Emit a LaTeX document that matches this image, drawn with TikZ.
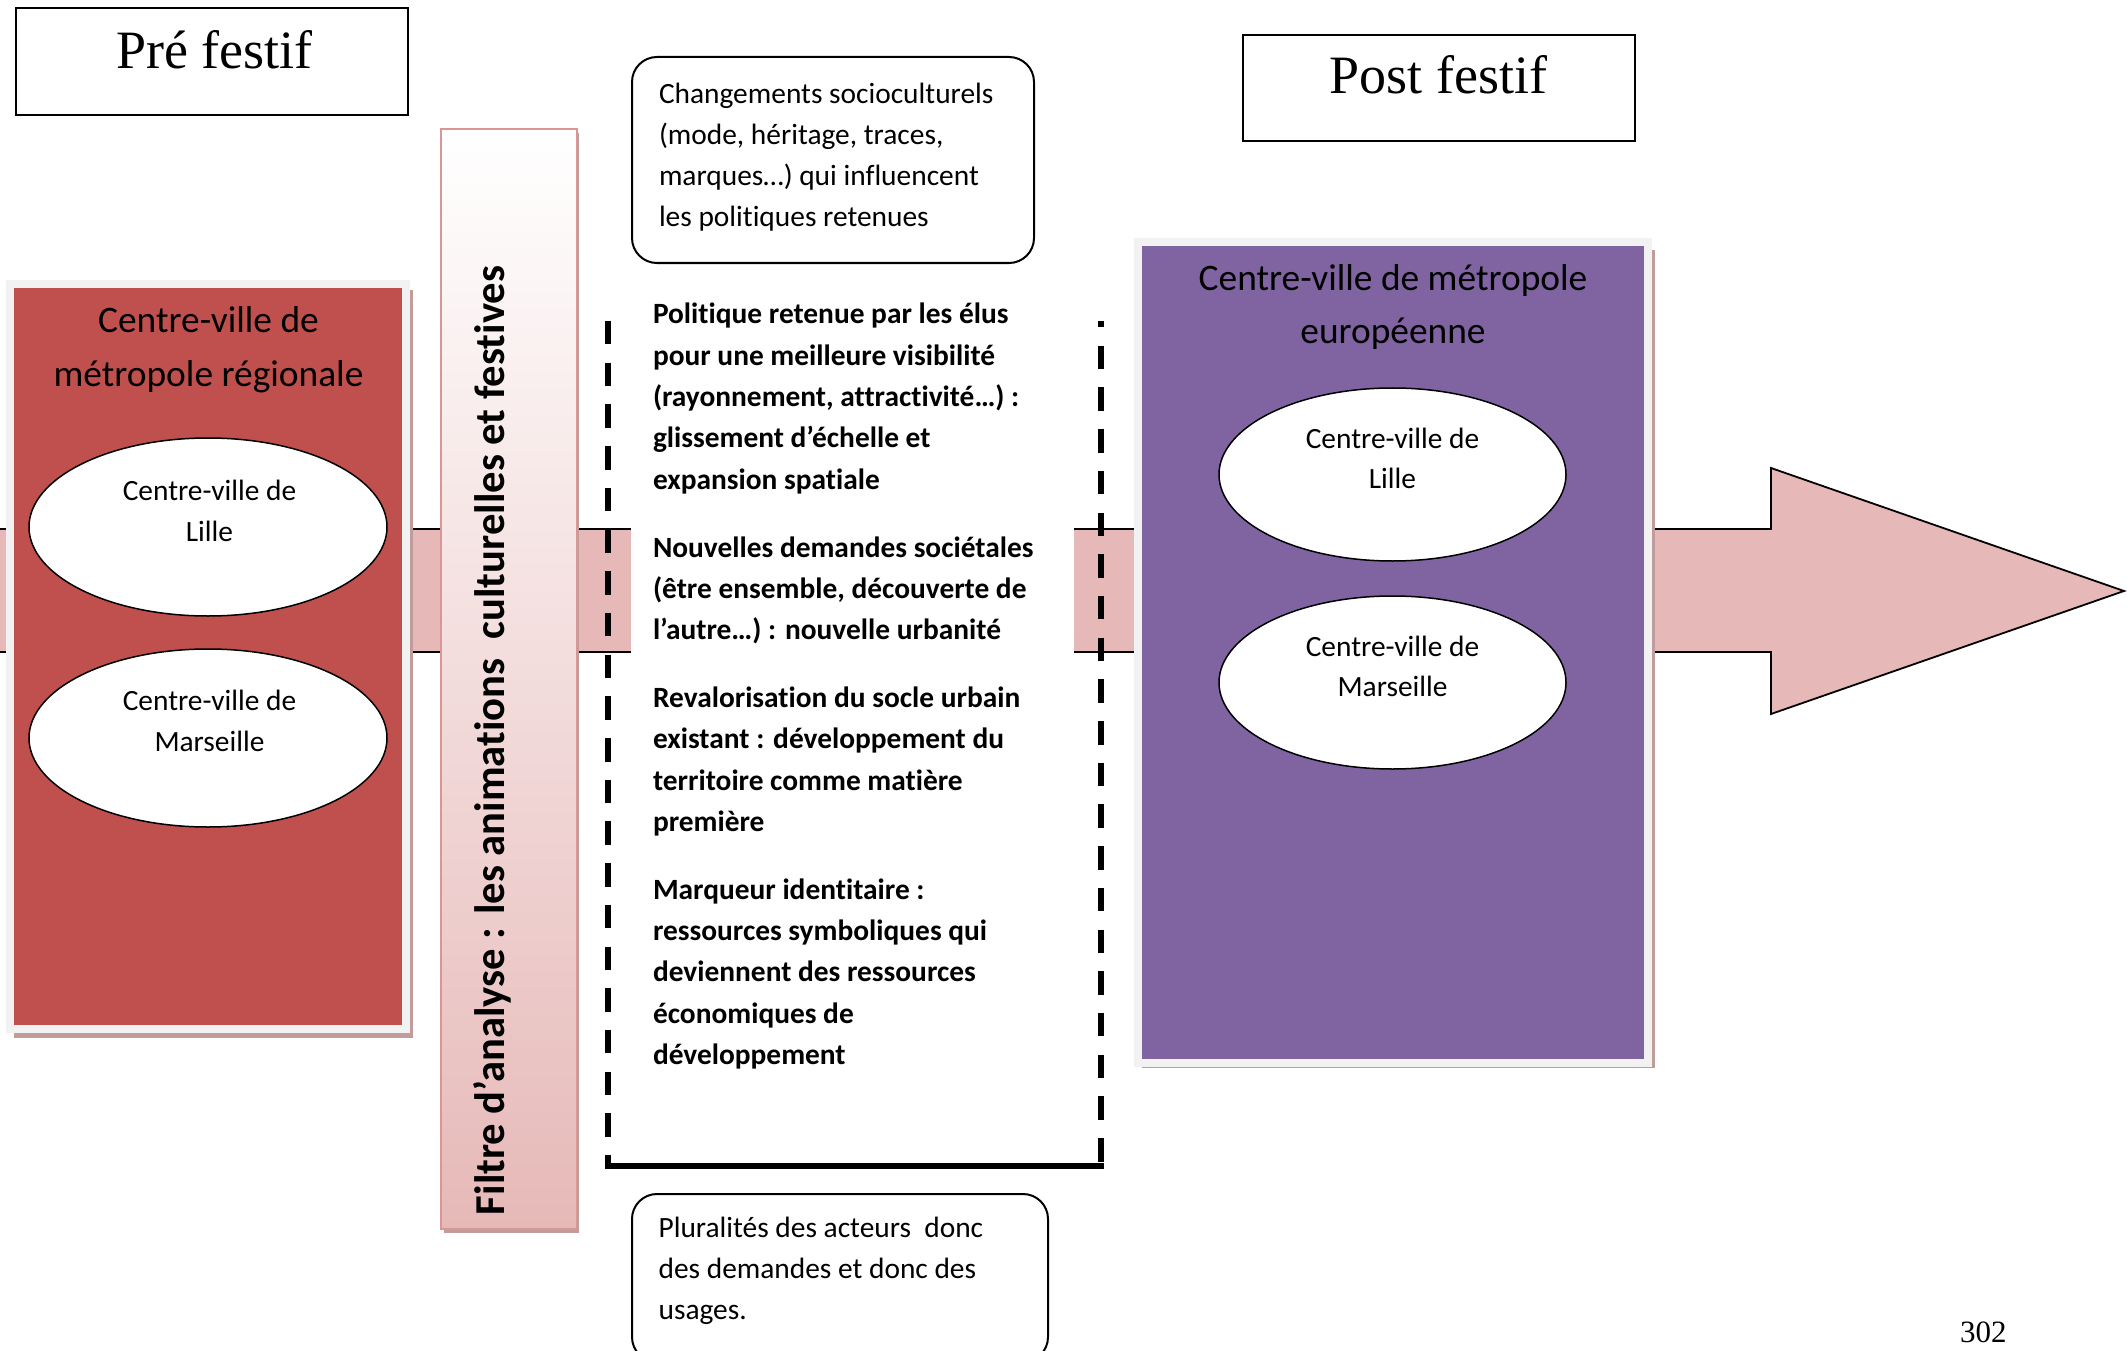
\documentclass[tikz,border=0pt]{standalone}
\usepackage{fontspec}
\setmainfont[Ligatures={NoCommon}]{Carlito}
\newfontfamily\timesfont{Liberation Serif}
\usetikzlibrary{shapes.geometric}
\definecolor{boxred}{HTML}{C0504D}
\definecolor{boxpurple}{HTML}{8064A2}
\definecolor{bandpink}{HTML}{E6B9B8}
\definecolor{framegray}{HTML}{F2F2F2}
\definecolor{shadowgray}{HTML}{C09C9B}
\definecolor{filterline}{HTML}{D99694}
\begin{document}
\begin{tikzpicture}[x=1bp,y=-1bp,
  txt/.style={inner sep=0pt, outer sep=0pt},
  headbox/.style={draw=black, line width=2bp, fill=white, inner sep=0pt},
  headfont/.style={font=\timesfont\fontsize{54bp}{60bp}\selectfont},
  citybox/.style={draw=framegray, line width=8bp, inner sep=0pt},
  cityoval/.style={ellipse, draw=black, line width=1.5bp, fill=white, inner sep=0pt},
  notebox/.style={draw=black, line width=2bp, rounded corners=25bp, fill=white, inner sep=0pt},
  dashline/.style={line width=6bp, dash pattern=on 23.5bp off 18.2bp},
]
\useasboundingbox (0,0) rectangle (2127,1351);

% big background arrow
\draw[fill=bandpink, line width=1.8bp] (-10,529) -- (1771,529) -- (1771,468) -- (2124,591)
  -- (1771,714) -- (1771,652) -- (-10,652) -- cycle;

% white area behind the central text
\fill[white] (631,500) rectangle (1074,690);

% dashed frame
\coordinate (dashLT) at (608,321);
\coordinate (dashLB) at (608,1163);
\coordinate (dashRT) at (1101,321);
\coordinate (dashRB) at (1101,1163);
\coordinate (baseL) at (605,1166);
\coordinate (baseR) at (1104,1166);
\draw[dashline] (dashLT) -- (dashLB);
\draw[dashline, dash phase=17bp] (dashRT) -- (dashRB);
\draw[line width=6bp] (baseL) -- (baseR);

% headings
\node[headbox, minimum width=392bp, minimum height=107bp] (preBox) at (212,61.5) {};
\node[txt, anchor=base, headfont] (preText) at (214.5,69) {Pré festif};
\node[headbox, minimum width=392bp, minimum height=106bp] (postBox) at (1439,88) {};
\node[txt, anchor=base, headfont] (postText) at (1438.5,94) {Post festif};

% red box
\fill[shadowgray] (14,290) rectangle (413,1038);
\node[citybox, fill=boxred, minimum width=396bp, minimum height=744bp] (redBox) at (208,656.5) {};
\node[txt, anchor=base] (redTitle) at (208.5,333)
  {\parbox[t]{390bp}{\centering\fontsize{37.4bp}{54bp}\selectfont Centre-ville de\\ métropole régionale}};
\node[cityoval, minimum width=358bp, minimum height=178bp] (redLille) at (208,527) {};
\node[txt, anchor=base] (redLilleText) at (209.5,500)
  {\parbox[t]{300bp}{\centering\fontsize{29.4bp}{41bp}\selectfont Centre-ville de\\ Lille}};
\node[cityoval, minimum width=358bp, minimum height=178bp] (redMars) at (208,738) {};
\node[txt, anchor=base] (redMarsText) at (209.5,710)
  {\parbox[t]{300bp}{\centering\fontsize{29.4bp}{41bp}\selectfont Centre-ville de\\ Marseille}};

% purple box
\fill[shadowgray] (1142,250) rectangle (1655,1068);
\node[citybox, fill=boxpurple, minimum width=510bp, minimum height=821bp] (purpleBox) at (1393,652.5) {};
\node[txt, anchor=base] (purpleTitle) at (1393,291)
  {\parbox[t]{500bp}{\centering\fontsize{37.4bp}{53bp}\selectfont Centre-ville de métropole\\ européenne}};
\node[cityoval, minimum width=347bp, minimum height=173bp] (purpleLille) at (1392.5,474.5) {};
\node[txt, anchor=base] (purpleLilleText) at (1392.5,448)
  {\parbox[t]{300bp}{\centering\fontsize{29.4bp}{40bp}\selectfont Centre-ville de\\ Lille}};
\node[cityoval, minimum width=347bp, minimum height=173bp] (purpleMars) at (1392.5,682.5) {};
\node[txt, anchor=base] (purpleMarsText) at (1392.5,656)
  {\parbox[t]{300bp}{\centering\fontsize{29.4bp}{40bp}\selectfont Centre-ville de\\ Marseille}};

% filter bar
\fill[shadowgray] (444,133) rectangle (579,1233);
\node[draw=filterline, line width=2.5bp, top color=white, bottom color=bandpink,
  minimum width=136bp, minimum height=1100bp, inner sep=0pt] (filterBar) at (509,679) {};
\node[txt, anchor=base west, rotate=90, font=\bfseries\fontsize{42.6bp}{50bp}\selectfont]
  (filterText) at (504,1215) {Filtre d’analyse : les animations\ \ culturelles et festives};

% note boxes
\node[notebox, minimum width=402bp, minimum height=206bp] (topNote) at (833,160) {};
\node[txt, anchor=base west] (topNoteText) at (659,104)
  {\parbox[t]{380bp}{\raggedright\fontsize{29.4bp}{41bp}\selectfont
   Changements socioculturels\\ (mode, héritage, traces,\\ marques…) qui influencent\\ les politiques retenues}};
\node[notebox, minimum width=416bp, minimum height=168bp] (bottomNote) at (840,1278) {};
\node[txt, anchor=base west] (bottomNoteText) at (658.6,1237)
  {\parbox[t]{390bp}{\raggedright\fontsize{29.4bp}{41bp}\selectfont
   Pluralités des acteurs\ \ donc\\ des demandes et donc des\\ usages.}};

% central bold text
\node[txt, anchor=base west] (policyText) at (653,324)
  {\parbox[t]{440bp}{\raggedright\bfseries\fontsize{29.4bp}{41.3bp}\selectfont
   Politique retenue par les élus\\ pour une meilleure visibilité\\ (rayonnement, attractivité…) :\\ glissement d’échelle et\\ expansion spatiale\par\vspace{26.5bp}
   Nouvelles demandes sociétales\\ (être ensemble, découverte de\\ l’autre…) : nouvelle urbanité\par\vspace{26.5bp}
   Revalorisation du socle urbain\\ existant : développement du\\ territoire comme matière\\ première\par\vspace{26.5bp}
   Marqueur identitaire :\\ ressources symboliques qui\\ deviennent des ressources\\ économiques de\\ développement}};

% page number
\node[txt, anchor=base west, font=\timesfont\fontsize{31bp}{36bp}\selectfont] (pageNum) at (1960,1342) {302};
\end{tikzpicture}
\end{document}
